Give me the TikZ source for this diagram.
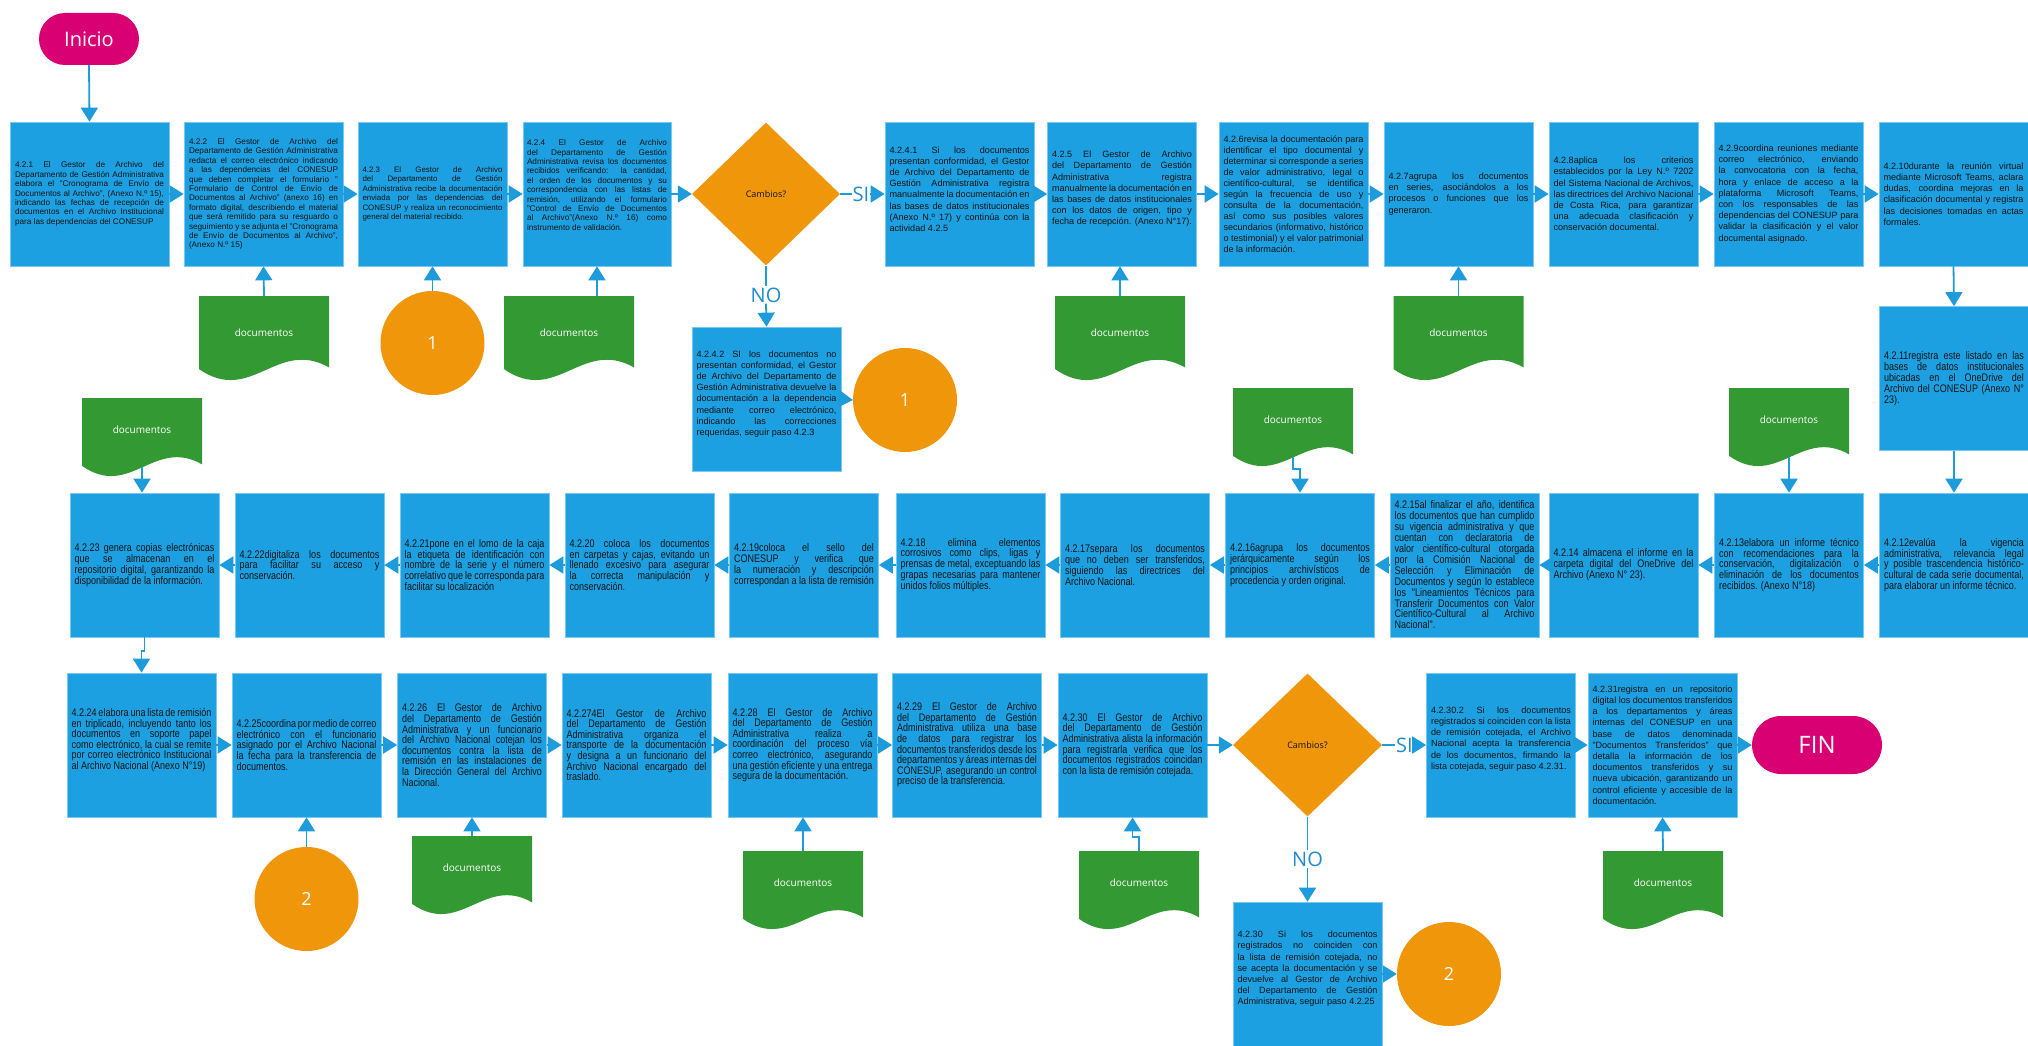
\documentclass[tikz,border=0pt]{standalone}
\usepackage{fontspec}
\setmainfont{Liberation Sans}
\newfontfamily\labelfont{Open Sans}
\newfontfamily\narrowfont[FakeStretch=0.82]{Liberation Sans}
\usetikzlibrary{shapes.geometric,arrows.meta,calc}
\definecolor{boxblue}{RGB}{28,160,225}
\definecolor{boxedge}{RGB}{120,200,240}
\definecolor{lineblue}{RGB}{30,155,218}
\definecolor{orng}{RGB}{240,150,10}
\definecolor{dgreen}{RGB}{51,153,51}
\definecolor{pinkc}{RGB}{216,0,115}
\definecolor{txtdark}{RGB}{20,20,20}
\definecolor{labblue}{RGB}{30,140,205}
\newcommand\nohy{\hyphenpenalty=10000\tolerance=9999\emergencystretch=30pt\relax}
\tikzset{
 procbox/.style={rectangle, fill=boxblue, draw=boxedge, line width=0.7pt, minimum width=149pt, minimum height=144pt, inner sep=0pt, text width=140pt, align=justify, text=txtdark, font=\fontsize{9.1}{11.2}\selectfont\nohy},
 wide/.style={minimum width=159pt, text width=149pt},
 fsmall/.style={font=\fontsize{8.2}{9.4}\selectfont\nohy},
 fnarrow/.style={font=\narrowfont\fontsize{11}{10.9}\selectfont\nohy},
 fnarrowb/.style={font=\narrowfont\fontsize{11}{10.6}\selectfont\nohy},
 decision/.style={diamond, fill=orng, minimum width=148pt, minimum height=143pt, inner sep=0pt, text=txtdark, font=\labelfont\fontsize{9}{11}\selectfont},
 conn/.style={circle, fill=orng, minimum size=104pt, inner sep=0pt, text=white, font=\labelfont\fontsize{18}{20}\selectfont},
 term/.style={rectangle, rounded corners=26pt, fill=pinkc, minimum height=52pt, text=white, font=\labelfont\fontsize{20}{24}\selectfont},
 docu/.style={rectangle, inner sep=0pt, text=white, font=\labelfont\fontsize{10}{12}\selectfont,
   path picture={\fill[dgreen] let \p1=(path picture bounding box.north west), \p2=(path picture bounding box.south east) in
     (\x1,\y1) -- (\x2,\y1) -- (\x2,{\y1+0.85*(\y2-\y1)})
     .. controls ({\x1+0.6*(\x2-\x1)},{\y1+0.5*(\y2-\y1)}) and ({\x1+0.4*(\x2-\x1)},{\y1+1.3*(\y2-\y1)}) .. (\x1,{\y1+0.87*(\y2-\y1)}) -- cycle;}},
 docA/.style={docu, minimum width=130pt, minimum height=84pt},
 docB/.style={docu, minimum width=120pt, minimum height=78pt},
 yn/.style={text=labblue, font=\labelfont\fontsize{20}{24}\selectfont, inner sep=1pt},
 arr/.style={draw=lineblue, line width=1.8pt, -{Triangle[length=14pt,width=17pt]}},
 ln/.style={draw=lineblue, line width=1.8pt}
}
\newcommand\docA{\raisebox{11pt}{documentos}}
\newcommand\docB{\raisebox{14pt}{documentos}}
\begin{document}
\begin{tikzpicture}[x=1pt,y=-1pt]
\fill[white] (0,0) rectangle (2028,1046);
\useasboundingbox (0,0) rectangle (2028,1046);

% ---------- row 1 ----------
\node[term, minimum width=100pt] (ini) at (89,39) {Inicio};
\node[procbox,wide,fsmall] (b421) at (89.5,194) {4.2.1 El Gestor de Archivo del Departamento de Gestión Administrativa elabora el "Cronograma de Envío de Documentos al Archivo", (Anexo N.º 15), indicando las fechas de recepción de documentos en el Archivo Institucional para las dependencias del CONESUP};
\node[procbox,wide,fsmall] (b422) at (263.5,194) {4.2.2 El Gestor de Archivo del Departamento de Gestión Administrativa redacta el correo electrónico indicando a las dependencias del CONESUP que deben completar el formulario " Formulario de Control de Envío de Documentos al Archivo" (anexo 16) en formato digital, describiendo el material que será remitido para su resguardo o seguimiento y se adjunta el "Cronograma de Envío de Documentos al Archivo", (Anexo N.º 15)};
\node[procbox,font=\fontsize{7.9}{9.4}\selectfont\nohy] (b423) at (432.5,194) {4.2.3 El Gestor de Archivo del Departamento de Gestión Administrativa recibe la documentación enviada por las dependencias del CONESUP y realiza un reconocimiento general del material recibido.};
\node[procbox,fsmall,minimum width=148pt] (b424) at (597,194) {4.2.4 El Gestor de Archivo del Departamento de Gestión Administrativa revisa los documentos recibidos verificando: la cantidad, el orden de los documentos y su correspondencia con las listas de remisión, utilizando el formulario "Control de Envío de Documentos al Archivo"(Anexo N.º 16) como instrumento de validación.\par\vspace*{18pt}};
\node[decision] (d1) at (766,194) {Cambios?};
\node[yn] (si1) at (861,194) {SI};
\node[procbox] (b4241) at (959.5,194) {4.2.4.1 Si los documentos presentan conformidad, el Gestor de Archivo del Departamento de Gestión Administrativa registra manualmente la documentación en las bases de datos institucionales (Anexo N.º 17) y continúa con la actividad 4.2.5\par\vspace*{10pt}};
\node[procbox] (b425) at (1122,194) {4.2.5 El Gestor de Archivo del Departamento de Gestión Administrativa registra manualmente la documentación en las bases de datos institucionales con los datos de origen, tipo y fecha de recepción. (Anexo N°17).\par\vspace*{10pt}};
\node[procbox,font=\fontsize{9.1}{11}\selectfont\nohy] (b426) at (1293.5,194) {4.2.6revisa la documentación para identificar el tipo documental y determinar si corresponde a series de valor administrativo, legal o científico-cultural, se identifica según la frecuencia de uso y consulta de la documentación, así como sus posibles valores secundarios (informativo, histórico o testimonial) y el valor patrimonial de la información.};
\node[procbox] (b427) at (1458.5,194) {4.2.7agrupa los documentos en series, asociándolos a los procesos o funciones que los generaron.};
\node[procbox] (b428) at (1623.5,194) {4.2.8aplica los criterios establecidos por la Ley N.º 7202 del Sistema Nacional de Archivos, las directrices del Archivo Nacional de Costa Rica, para garantizar una adecuada clasificación y conservación documental.};
\node[procbox] (b429) at (1788.5,194) {4.2.9coordina reuniones mediante correo electrónico, enviando la convocatoria con la fecha, hora y enlace de acceso a la plataforma Microsoft Teams, con los responsables de las dependencias del CONESUP para validar la clasificación y el valor documental asignado.};
\node[procbox] (b4210) at (1953.5,194) {4.2.10durante la reunión virtual mediante Microsoft Teams, aclara dudas, coordina mejoras en la clasificación documental y registra las decisiones tomadas en actas formales.};

\node[docA] (doc1) at (264,338) {\docA};
\node[conn] (c1a) at (432.5,343) {1};
\node[docA] (doc2) at (569,338) {\docA};
\node[docA] (doc3) at (1120,338) {\docA};
\node[docA] (doc4) at (1458.5,338) {\docA};
\node[yn] (no1) at (766,295) {NO};
\node[procbox] (b4242) at (766.5,399) {4.2.4.2 SI los documentos no presentan conformidad, el Gestor de Archivo del Departamento de Gestión Administrativa devuelve la documentación a la dependencia mediante correo electrónico, indicando las correcciones requeridas, seguir paso 4.2.3\par\vspace*{10pt}};
\node[conn] (c1b) at (905,400) {1};

% ---------- row 2 ----------
\node[procbox,fnarrow] (b4211) at (1954,378.5) {4.2.11registra este listado en las bases de datos institucionales ubicadas en el OneDrive del Archivo del CONESUP (Anexo N° 23).};
\node[procbox,fnarrow] (b4212) at (1954,565) {4.2.12evalúa la vigencia administrativa, relevancia legal y posible trascendencia histórico-cultural de cada serie documental, para elaborar un informe técnico.};
\node[procbox,fnarrow] (b4213) at (1789,565) {4.2.13elabora un informe técnico con recomendaciones para la conservación, digitalización o eliminación de los documentos recibidos. (Anexo N°18)};
\node[procbox,fnarrow] (b4214) at (1623.5,565) {4.2.14 almacena el informe en la carpeta digital del OneDrive del Archivo (Anexo N° 23).};
\node[procbox,fnarrow] (b4215) at (1464.5,565) {4.2.15al finalizar el año, identifica los documentos que han cumplido su vigencia administrativa y que cuentan con declaratoria de valor científico-cultural otorgada por la Comisión Nacional de Selección y Eliminación de Documentos y según lo establece los "Lineamientos Técnicos para Transferir Documentos con Valor Científico-Cultural al Archivo Nacional".};
\node[procbox,fnarrow] (b4216) at (1300,565) {4.2.16agrupa los documentos jerárquicamente según los principios archivísticos de procedencia y orden original.};
\node[procbox,fnarrow] (b4217) at (1135,565) {4.2.17separa los documentos que no deben ser transferidos, siguiendo las directrices del Archivo Nacional.};
\node[procbox,fnarrow] (b4218) at (970.5,565) {4.2.18 elimina elementos corrosivos como clips, ligas y prensas de metal, exceptuando las grapas necesarias para mantener unidos folios múltiples.};
\node[procbox,fnarrow] (b4219) at (804,565) {4.2.19coloca el sello del CONESUP y verifica que la numeración y descripción correspondan a la lista de remisión};
\node[procbox,fnarrow] (b4220) at (639.5,565) {4.2.20 coloca los documentos en carpetas y cajas, evitando un llenado excesivo para asegurar la correcta manipulación y conservación.};
\node[procbox,fnarrow] (b4221) at (474.5,565) {4.2.21pone en el lomo de la caja la etiqueta de identificación con nombre de la serie y el número correlativo que le corresponda para facilitar su localización};
\node[procbox,fnarrow] (b4222) at (309.5,565) {4.2.22digitaliza los documentos para facilitar su acceso y conservación.};
\node[procbox,fnarrow] (b4223) at (144.5,565) {4.2.23 genera copias electrónicas que se almacenan en el repositorio digital, garantizando la disponibilidad de la información.};

\node[docB] (doc5) at (142,437) {\docB};
\node[docB] (doc6) at (1293,427) {\docB};
\node[docB] (doc7) at (1789,427) {\docB};

% ---------- row 3 ----------
\node[procbox,fnarrowb] (b4224) at (141.5,745) {4.2.24 elabora una lista de remisión en triplicado, incluyendo tanto los documentos en soporte papel como electrónico, la cual se remite por correo electrónico Institucional al Archivo Nacional (Anexo N°19)\par\vspace*{10pt}};
\node[procbox,fnarrowb] (b4225) at (306.5,745) {4.2.25coordina por medio de correo electrónico con el funcionario asignado por el Archivo Nacional la fecha para la transferencia de documentos.};
\node[procbox,fnarrowb] (b4226) at (472,745) {4.2.26 El Gestor de Archivo del Departamento de Gestión Administrativa y un funcionario del Archivo Nacional cotejan los documentos contra la lista de remisión en las instalaciones de la Dirección General del Archivo Nacional.};
\node[procbox,fnarrowb] (b4227) at (636.5,745) {4.2.274El Gestor de Archivo del Departamento de Gestión Administrativa organiza el transporte de la documentación y designa a un funcionario del Archivo Nacional encargado del traslado.};
\node[procbox,fnarrowb] (b4228) at (802.5,745) {4.2.28 El Gestor de Archivo del Departamento de Gestión Administrativa realiza a coordinación del proceso vía correo electrónico, asegurando una gestión eficiente y una entrega segura de la documentación.};
\node[procbox,fnarrowb] (b4229) at (967,745) {4.2.29 El Gestor de Archivo del Departamento de Gestión Administrativa utiliza una base de datos para registrar los documentos transferidos desde los departamentos y áreas internas del CONESUP, asegurando un control preciso de la transferencia.};
\node[procbox,fnarrowb] (b4230) at (1132.5,745) {4.2.30 El Gestor de Archivo del Departamento de Gestión Administrativa alista la información para registrarla verifica que los documentos registrados coincidan con la lista de remisión cotejada.};
\node[decision, minimum width=149pt] (d2) at (1307.5,745) {Cambios?};
\node[yn] (si2) at (1404.5,745) {SI};
\node[procbox] (b42302) at (1501,745) {4.2.30.2 Si los documentos registrados si coinciden con la lista de remisión cotejada, el Archivo Nacional acepta la transferencia de los documentos, firmando la lista cotejada, seguir paso 4.2.31.\par\vspace*{12pt}};
\node[procbox] (b4231) at (1662.5,745) {4.2.31registra en un repositorio digital los documentos transferidos a los departamentos y áreas internas del CONESUP en una base de datos denominada "Documentos Transferidos" que detalla la información de los documentos transferidos y su nueva ubicación, garantizando un control eficiente y accesible de la documentación.};
\node[term, minimum width=130pt, minimum height=58pt, rounded corners=29pt, font=\labelfont\fontsize{24}{28}\selectfont] (fin) at (1817,745) {FIN};

\node[yn] (no2) at (1307.5,859) {NO};
\node[procbox] (b4230n) at (1307.5,974) {4.2.30 Si los documentos registrados no coinciden con la lista de remisión cotejada, no se acepta la documentación y se devuelve al Gestor de Archivo del Departamento de Gestión Administrativa, seguir paso 4.2.25\par\vspace*{10pt}};
\node[conn] (c2b) at (1449,974) {2};
\node[conn] (c2a) at (306.5,899) {2};
\node[docB] (doc8) at (472,875) {\docB};
\node[docB] (doc9) at (803,890) {\docB};
\node[docB] (doc10) at (1139,890) {\docB};
\node[docB] (doc11) at (1663,890) {\docB};

% ---------- connectors ----------
\draw[arr] (ini.south) -- (b421.north);
\draw[arr] (b421.east) -- (b422.west);
\draw[arr] (b422.east) -- (b423.west);
\draw[arr] (b423.east) -- (b424.west);
\draw[arr] (b424.east) -- (d1.west);
\draw[ln] (d1.east) -- (si1.west);
\draw[arr] (si1.east) -- (b4241.west);
\draw[arr] (b4241.east) -- (b425.west);
\draw[arr] (b425.east) -- (b426.west);
\draw[arr] (b426.east) -- (b427.west);
\draw[arr] (b427.east) -- (b428.west);
\draw[arr] (b428.east) -- (b429.west);
\draw[arr] (b429.east) -- (b4210.west);
\draw[arr] (b4210.south) -- (b4211.north);
\draw[arr] (b4211.south) -- (b4212.north);

\draw[arr] (doc1.north) -- (b422.south);
\draw[arr] (c1a.north) -- (b423.south);
\draw[arr] (doc2.north -| b424.south) -- (b424.south);
\draw[arr] (doc3.north) -- (doc3.north |- b425.south);
\draw[arr] (doc4.north) -- (b427.south);
\draw[ln] (d1.south) -- (no1.north);
\draw[arr] (no1.south) -- (b4242.north);
\draw[arr] (b4242.east) -- (c1b.west);

\draw[arr] (b4212.west) -- (b4213.east);
\draw[arr] (b4213.west) -- (b4214.east);
\draw[arr] (b4214.west) -- (b4215.east);
\draw[arr] (b4215.west) -- (b4216.east);
\draw[arr] (b4216.west) -- (b4217.east);
\draw[arr] (b4217.west) -- (b4218.east);
\draw[arr] (b4218.west) -- (b4219.east);
\draw[arr] (b4219.west) -- (b4220.east);
\draw[arr] (b4220.west) -- (b4221.east);
\draw[arr] (b4221.west) -- (b4222.east);
\draw[arr] (b4222.west) -- (b4223.east);
\draw[arr] ($(doc5.north)!0.88!(doc5.south)$) -- (doc5 |- b4223.north);
\draw[arr] ($(doc6.north)!0.88!(doc6.south)$) -- ++(0,12) -| (b4216.north);
\draw[arr] ($(doc7.north)!0.88!(doc7.south)$) -- (b4213.north);
\draw[arr] (b4223.south) -- ++(0,14) -| (b4224.north);

\draw[arr] (b4224.east) -- (b4225.west);
\draw[arr] (b4225.east) -- (b4226.west);
\draw[arr] (b4226.east) -- (b4227.west);
\draw[arr] (b4227.east) -- (b4228.west);
\draw[arr] (b4228.east) -- (b4229.west);
\draw[arr] (b4229.east) -- (b4230.west);
\draw[arr] (b4230.east) -- (d2.west);
\draw[ln] (d2.east) -- (si2.west);
\draw[arr] (si2.east) -- (b42302.west);
\draw[arr] (b42302.east) -- (b4231.west);
\draw[arr] (b4231.east) -- (fin.west);
\draw[ln] (d2.south) -- (no2.north);
\draw[arr] (no2.south) -- (b4230n.north);
\draw[arr] (b4230n.east) -- (c2b.west);
\draw[arr] (c2a.north) -- (b4225.south);
\draw[arr] (doc8.north) -- (doc8.north |- b4226.south);
\draw[arr] (doc9.north) -- (doc9.north |- b4228.south);
\draw[arr] (doc10.north) -- ++(0,-14) -| (b4230.south);
\draw[arr] (doc11.north) -- (b4231.south);
\end{tikzpicture}
\end{document}
